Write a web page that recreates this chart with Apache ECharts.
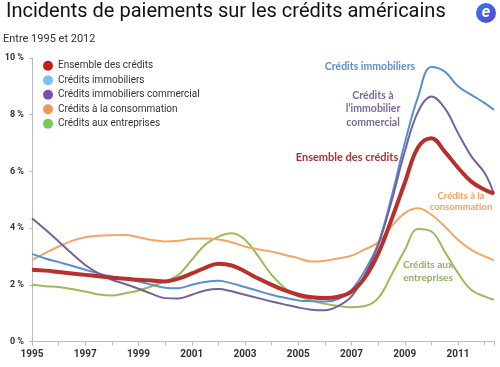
<!DOCTYPE html>
<html><head><meta charset="utf-8">
<script src="https://cdn.jsdelivr.net/npm/echarts@6/dist/echarts.min.js"></script>
<style>html,body{margin:0;padding:0;background:#fff}#c{width:500px;height:367px}</style>
</head><body><div id="c"></div>
<script>
const years = [1995,1995.5,1996,1996.5,1997,1997.5,1998,1998.5,1999,1999.5,2000,2000.5,2001,2001.5,2002,2002.5,2003,2003.5,2004,2004.5,2005,2005.5,2006,2006.5,2007,2007.5,2008,2008.5,2009,2009.5,2010,2010.5,2011,2011.5,2012,2012.35];
const ensemble = [2.53,2.5,2.45,2.4,2.35,2.3,2.25,2.21,2.18,2.15,2.12,2.22,2.4,2.6,2.74,2.68,2.47,2.22,2.0,1.8,1.65,1.56,1.53,1.58,1.76,2.25,3.1,4.3,5.6,6.85,7.17,6.7,6.13,5.64,5.35,5.22];
const immobiliers = [3.09,2.93,2.8,2.67,2.53,2.4,2.29,2.2,2.12,2.0,1.9,1.88,2.0,2.1,2.14,2.05,1.92,1.78,1.65,1.54,1.45,1.42,1.41,1.5,1.82,2.5,3.45,5.1,7.0,8.64,9.68,9.52,9.0,8.7,8.41,8.17];
const commercial = [4.35,3.95,3.53,3.1,2.7,2.4,2.18,2.03,1.86,1.68,1.53,1.52,1.65,1.8,1.85,1.77,1.65,1.53,1.41,1.3,1.2,1.12,1.1,1.25,1.59,2.35,3.4,4.94,6.7,8.11,8.64,8.23,7.35,6.53,5.94,5.2];
const consommation = [2.88,3.12,3.35,3.55,3.68,3.73,3.75,3.76,3.68,3.58,3.53,3.55,3.62,3.63,3.6,3.5,3.35,3.25,3.17,3.05,2.94,2.82,2.85,2.93,3.03,3.25,3.5,4.06,4.53,4.7,4.47,4.06,3.59,3.23,3.0,2.86];
const entreprises = [2.0,1.95,1.92,1.85,1.76,1.66,1.62,1.7,1.8,1.95,2.12,2.35,2.88,3.41,3.7,3.82,3.59,3.0,2.35,1.88,1.59,1.45,1.33,1.25,1.21,1.25,1.53,2.35,3.23,3.97,3.88,3.17,2.41,1.82,1.59,1.47];
const seriesNames = ['Ensemble des crédits','Crédits immobiliers','Crédits immobiliers commercial','Crédits à la consommation','Crédits aux entreprises'];
const yTicks = [0,2,4,6,8,10];

const pair = arr => years.map((y,i)=>[y,arr[i]]);
const chart = echarts.init(document.getElementById('c'), null, {renderer:'canvas'});
const F = 'Roboto, "Liberation Sans", sans-serif';
const CF = 'Lato, "Open Sans", sans-serif';
function mk(name, data, lineColor, legendColor, w, z){
  return {name, type:'line', data:pair(data), smooth:0.4, showSymbol:false, symbol:'circle', z,
    lineStyle:{color:lineColor, width:w}, itemStyle:{color:legendColor}, emphasis:{disabled:true}};
}
chart.setOption({
  animation:false,
  textStyle:{fontFamily:F},
  title:[
    {text:'Incidents de paiements sur les crédits américains', left:6, top:2, padding:0,
     textStyle:{fontSize:20, fontWeight:'normal', color:'#111', fontFamily:F}},
    {text:'Entre 1995 et 2012', left:3, top:34, padding:0, textStyle:{fontSize:11, fontWeight:'normal', color:'#333', fontFamily:F}}
  ],
  legend:{orient:'vertical', left:43, top:60, padding:0, icon:'circle', itemWidth:10, itemHeight:10, itemGap:3,
    textStyle:{fontSize:10, color:'#333', fontFamily:F, lineHeight:11.5}, data:seriesNames},
  grid:{left:32, right:6, top:58, bottom:25.5, containLabel:false},
  xAxis:{type:'value', min:1995, max:2012.35, interval:1,
    axisLine:{lineStyle:{color:'#bbb'}}, axisTick:{length:4, lineStyle:{color:'#bbb'}},
    splitLine:{show:false}, showMaxLabel:false,
    axisLabel:{margin:8, fontSize:10, fontWeight:'bold', color:'#333', fontFamily:F,
      formatter:v=> (Number.isInteger(v) && v%2===1) ? String(v) : ''}},
  yAxis:{type:'value', min:0, max:10, interval:2,
    axisLine:{show:true, lineStyle:{color:'#bbb'}}, axisTick:{show:true, length:3, lineStyle:{color:'#bbb'}},
    splitLine:{show:false},
    axisLabel:{margin:8, fontSize:9, fontWeight:'bold', color:'#333', fontFamily:F,
      formatter:v=> yTicks.includes(v) ? v+' %' : ''}},
  series:[
    mk(seriesNames[0], ensemble, '#b8302b', '#c81b1b', 4, 5),
    mk(seriesNames[1], immobiliers, '#5b8fd0', '#7dc0f0', 2, 3),
    mk(seriesNames[2], commercial, '#72639d', '#7550b0', 2, 4),
    mk(seriesNames[3], consommation, '#f3a565', '#f0955a', 2, 2),
    mk(seriesNames[4], entreprises, '#9bbb59', '#78c85a', 2, 1)
  ],
  graphic:[
    {type:'circle', shape:{cx:486, cy:13, r:10}, style:{fill:new echarts.graphic.LinearGradient(0,0,1,1,[{offset:0,color:'#2f7df0'},{offset:1,color:'#5b3fd6'}])}},
    {type:'text', x:486, y:13, style:{text:'e', fill:'#fff', font:'italic bold 16px '+F, align:'center', verticalAlign:'middle'}},
    {type:'text', x:370, y:67, style:{text:'Crédits immobiliers', fill:'#5f8ed0', font:'bold 10.5px '+CF, align:'center', verticalAlign:'middle'}},
    {type:'text', x:373, y:109, style:{text:'Crédits à\nl\u2019immobilier\ncommercial', fill:'#7a6a9c', font:'bold 10.5px '+CF, align:'center', verticalAlign:'middle', lineHeight:13.5}},
    {type:'text', x:347, y:157, style:{text:'Ensemble des crédits', fill:'#b0302e', font:'bold 11px '+CF, align:'center', verticalAlign:'middle'}},
    {type:'text', x:461, y:201.5, style:{text:'Crédits à la\nconsommation', fill:'#f0a263', font:'bold 9.5px '+CF, align:'center', verticalAlign:'middle', lineHeight:11.5}},
    {type:'text', x:428, y:271, style:{text:'Crédits aux\nentreprises', fill:'#90b060', font:'bold 10px '+CF, align:'center', verticalAlign:'middle', lineHeight:13}}
  ]
});
</script></body></html>
